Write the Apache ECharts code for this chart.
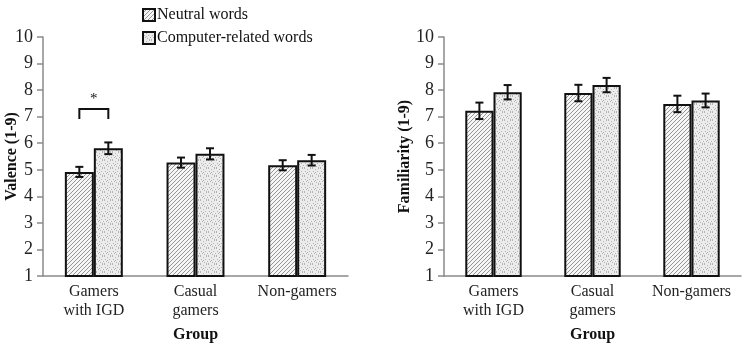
<!DOCTYPE html>
<html><head><meta charset="utf-8">
<script src="https://cdn.jsdelivr.net/npm/echarts@6/dist/echarts.min.js"></script>
<style>html,body{margin:0;padding:0;background:#fff}#c{width:746px;height:344px}</style>
</head><body><div id="c"></div>
<script>
const categories = ['Gamers\nwith IGD', 'Casual\ngamers', 'Non-gamers'];
const seriesNames = ['Neutral words', 'Computer-related words'];
const valenceNeutral = [4.92, 5.27, 5.17];
const valenceNeutralErr = [0.19, 0.19, 0.19];
const valenceComputer = [5.81, 5.60, 5.36];
const valenceComputerErr = [0.22, 0.21, 0.20];
const familiarityNeutral = [7.22, 7.89, 7.48];
const familiarityNeutralErr = [0.31, 0.31, 0.31];
const familiarityComputer = [7.92, 8.19, 7.61];
const familiarityComputerErr = [0.27, 0.27, 0.26];
const yTicks = [1, 2, 3, 4, 5, 6, 7, 8, 9, 10];
const bracket = [[0, 6.91, 7.29]]; // category, leg bottom, top

function hatch() {
  const cv = document.createElement('canvas'); cv.width = 4; cv.height = 4;
  const g = cv.getContext('2d');
  g.fillStyle = '#f6f6f6'; g.fillRect(0, 0, 4, 4);
  g.strokeStyle = '#8a8a8a'; g.lineWidth = 0.9;
  g.beginPath(); g.moveTo(0, 4); g.lineTo(4, 0); g.moveTo(-1, 1); g.lineTo(1, -1); g.moveTo(3, 5); g.lineTo(5, 3); g.stroke();
  return cv;
}
function stipple() {
  const cv = document.createElement('canvas'); cv.width = 8; cv.height = 8;
  const g = cv.getContext('2d');
  g.fillStyle = '#ececec'; g.fillRect(0, 0, 8, 8);
  g.fillStyle = '#b4b4b4';
  [[0,0],[3,1],[6,0],[1,3],[5,3],[7,5],[2,5],[4,6],[0,7],[6,7],[3,4]].forEach(p => g.fillRect(p[0], p[1], 1, 1));
  return cv;
}
const hatchFill = { image: hatch(), repeat: 'repeat' };
const dotFill = { image: stipple(), repeat: 'repeat' };
const FONT = 'Liberation Serif';
const GAP = 0.43;

function errSeries(idx, vals, errs, sign) {
  return {
    type: 'custom', xAxisIndex: idx, yAxisIndex: idx, z: 5, silent: true,
    data: vals.map((v, i) => [i, v - errs[i], v + errs[i]]),
    renderItem: function (params, api) {
      const lo = api.coord([api.value(0), api.value(1)]);
      const hi = api.coord([api.value(0), api.value(2)]);
      const bw = api.size([1, 0])[0] * (1 - GAP) / 2;
      const x = lo[0] + sign * bw / 2;
      const cap = 4;
      const st = { stroke: '#111', lineWidth: 2, fill: null };
      return { type: 'group', children: [
        { type: 'line', shape: { x1: x, y1: lo[1], x2: x, y2: hi[1] }, style: st },
        { type: 'line', shape: { x1: x - cap, y1: lo[1], x2: x + cap, y2: lo[1] }, style: st },
        { type: 'line', shape: { x1: x - cap, y1: hi[1], x2: x + cap, y2: hi[1] }, style: st }
      ]};
    }
  };
}
function barSeries(idx, name, vals, fill) {
  return {
    type: 'bar', name: name, xAxisIndex: idx, yAxisIndex: idx,
    data: vals, barGap: '0%', barCategoryGap: (GAP * 100) + '%',
    itemStyle: { color: fill, borderColor: '#111', borderWidth: 2 },
    emphasis: { disabled: true }
  };
}
const axisLineStyle = { color: '#8a8a8a', width: 1.5 };
function xAxis(idx) {
  return {
    type: 'category', gridIndex: idx, data: categories,
    name: 'Group', nameLocation: 'middle', nameGap: 51, nameMoveOverlap: false,
    nameTextStyle: { fontFamily: FONT, fontWeight: 'bold', fontSize: 16, color: '#111' },
    axisLine: { lineStyle: axisLineStyle }, axisTick: { show: false },
    axisLabel: { fontFamily: FONT, fontSize: 16, color: '#222', lineHeight: 19, margin: 6, interval: 0 }
  };
}
function yAxis(idx, name, gap) {
  return {
    type: 'value', gridIndex: idx, min: yTicks[0], max: yTicks[yTicks.length - 1], interval: 1,
    name: name, nameLocation: 'middle', nameGap: gap, nameRotate: 90, nameMoveOverlap: false,
    nameTextStyle: { fontFamily: FONT, fontWeight: 'bold', fontSize: 16, color: '#111' },
    axisLine: { show: true, lineStyle: axisLineStyle },
    axisTick: { show: true, length: 6, lineStyle: axisLineStyle },
    splitLine: { show: false },
    axisLabel: { fontFamily: FONT, fontSize: 18, color: '#222', margin: 10 }
  };
}
const chart = echarts.init(document.getElementById('c'));
chart.setOption({
  animation: false,
  backgroundColor: '#fff',
  legend: {
    orient: 'vertical', left: 137, top: 2, itemWidth: 12, itemHeight: 12, itemGap: 7,
    data: seriesNames, icon: 'rect', selectedMode: false,
    textStyle: { fontFamily: FONT, fontSize: 16, color: '#111', padding: [0, 0, 0, -3] }
  },
  grid: [
    { left: 43, top: 37, width: 305, height: 239, outerBoundsMode: 'none', containLabel: false },
    { left: 444, top: 37, width: 297, height: 239, outerBoundsMode: 'none', containLabel: false }
  ],
  xAxis: [xAxis(0), xAxis(1)],
  yAxis: [yAxis(0, 'Valence (1-9)', 23), yAxis(1, 'Familiarity (1-9)', 31)],
  series: [
    barSeries(0, seriesNames[0], valenceNeutral, hatchFill),
    barSeries(0, seriesNames[1], valenceComputer, dotFill),
    barSeries(1, seriesNames[0], familiarityNeutral, hatchFill),
    barSeries(1, seriesNames[1], familiarityComputer, dotFill),
    errSeries(0, valenceNeutral, valenceNeutralErr, -1),
    errSeries(0, valenceComputer, valenceComputerErr, 1),
    errSeries(1, familiarityNeutral, familiarityNeutralErr, -1),
    errSeries(1, familiarityComputer, familiarityComputerErr, 1),
    {
      type: 'custom', xAxisIndex: 0, yAxisIndex: 0, z: 6, silent: true, data: bracket,
      renderItem: function (params, api) {
        const lo = api.coord([api.value(0), api.value(1)]);
        const hi = api.coord([api.value(0), api.value(2)]);
        const bw = api.size([1, 0])[0] * (1 - GAP) / 2;
        const x1 = lo[0] - bw / 2, x2 = lo[0] + bw / 2;
        return { type: 'group', children: [
          { type: 'polyline', shape: { points: [[x1, lo[1]], [x1, hi[1]], [x2, hi[1]], [x2, lo[1]]] },
            style: { stroke: '#111', lineWidth: 2, fill: null } },
          { type: 'text', style: { text: '*', x: (x1 + x2) / 2, y: hi[1] - 2, align: 'center', verticalAlign: 'bottom',
            fontFamily: FONT, fontSize: 15, fill: '#111' } }
        ]};
      }
    }
  ]
});
</script></body></html>
